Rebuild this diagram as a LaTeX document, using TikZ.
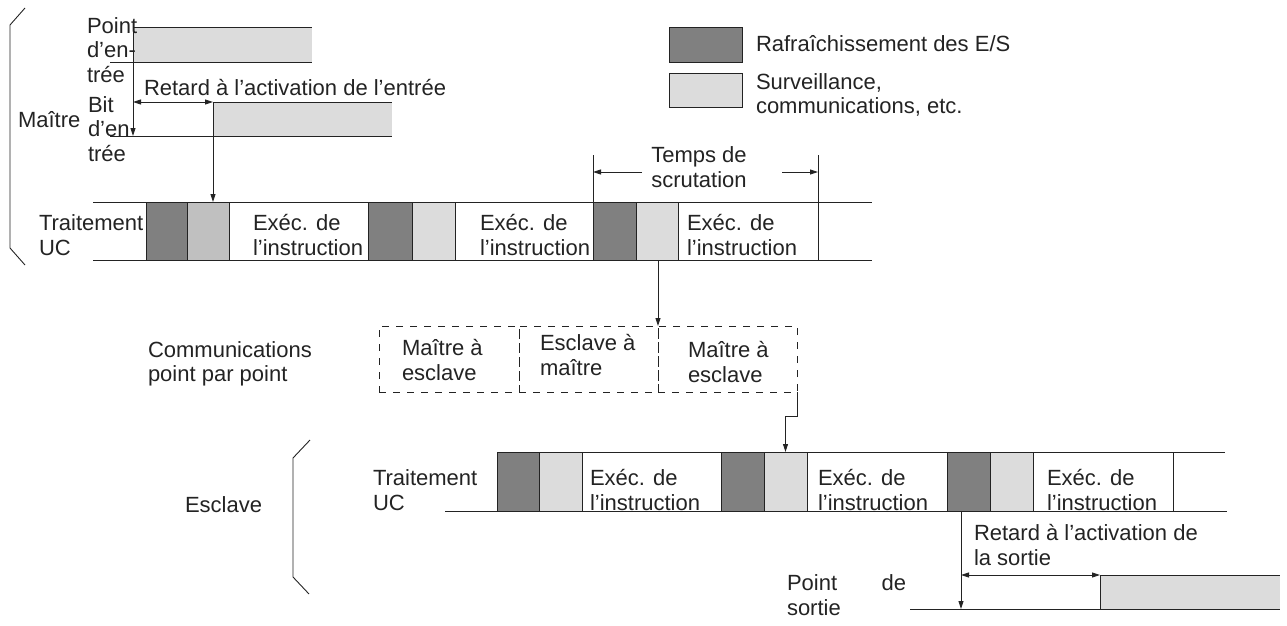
\documentclass[tikz,border=0pt]{standalone}
\usepackage{fontspec}
\setmainfont{Liberation Sans}
\usetikzlibrary{arrows.meta}
\definecolor{darkg}{RGB}{128,128,128}
\definecolor{lightg}{RGB}{220,220,220}
\definecolor{midg}{RGB}{192,192,192}
\definecolor{ink}{RGB}{35,35,35}
\begin{document}
\begin{tikzpicture}[x=1pt,y=-1pt,
  every node/.style={font=\fontsize{22}{24.5}\selectfont, inner sep=0pt, outer sep=0pt, text=ink},
  lbl/.style={anchor=west, align=left},
  line/.style={line width=0.9pt, draw=ink},
  arr/.style={line, -{Triangle[length=8pt,width=5pt]}},
  darr/.style={line, {Triangle[length=8pt,width=5pt]}-{Triangle[length=8pt,width=5pt]}},
  blk/.style={draw=ink, line width=0.9pt, minimum height=58pt},
  sblk/.style={draw=ink, line width=0.9pt, minimum height=59pt},
  comm/.style={draw=ink, line width=0.8pt, dash pattern=on 7pt off 7pt, minimum height=66pt}]
\useasboundingbox (0,0) rectangle (1287,626);

% ---------- legend ----------
\node[draw=ink, line width=0.9pt, fill=darkg, minimum width=73pt, minimum height=35pt] (legD) at (705.5,44.5) {};
\node[draw=ink, line width=0.9pt, fill=lightg, minimum width=73pt, minimum height=34pt] (legL) at (705.5,90) {};
\node[lbl] (legDt) at (756,44) {Rafraîchissement des E/S};
\node[lbl] (legLt) at (756,95) {Surveillance,\\communications, etc.};

% ---------- master bracket ----------
\draw[line] (25,8) -- (10,25) -- (10,248) -- (25,265);
\node[lbl] (maitre) at (18,120) {Maître};

% ---------- input signals ----------
\fill[lightg] (133,27) rectangle (312,62);
\draw[line] (133,27) -- (312,27);
\draw[line] (110,62) -- (312,62);
\fill[lightg] (213,102) rectangle (392,136);
\draw[line] (213,102) -- (392,102);
\draw[line] (110,136) -- (392,136);
\node[lbl] (ptin) at (87,50) {Point\\d’en-\\trée};
\node[lbl] (bitin) at (88,129) {Bit\\d’en\\trée};
\coordinate (inTop) at (133,21);
\coordinate (inLow) at (133,136);
\coordinate (inMid) at (133,102);
\coordinate (bitrise) at (213,102);
\draw[arr] (inTop) -- (inLow);
\draw[darr] (inMid) -- (bitrise);
\node[lbl] (retin) at (144,88) {Retard à l’activation de l’entrée};

% ---------- master row ----------
\draw[line] (93,202) -- (872,202);
\draw[line] (93,260) -- (872,260);
\node[blk, fill=darkg, minimum width=41pt] (m1d) at (166.5,231) {};
\node[blk, fill=midg, minimum width=42pt] (m1l) at (208,231) {};
\node[blk, fill=white, minimum width=139pt] (m1e) at (298.5,231) {};
\node[blk, fill=darkg, minimum width=44pt] (m2d) at (390,231) {};
\node[blk, fill=lightg, minimum width=43pt] (m2l) at (433.5,231) {};
\node[blk, fill=white, minimum width=138pt] (m2e) at (524,231) {};
\node[blk, fill=darkg, minimum width=43pt] (m3d) at (614.5,231) {};
\node[blk, fill=lightg, minimum width=42pt] (m3l) at (657,231) {};
\node[blk, fill=white, minimum width=140pt] (m3e) at (748,231) {};
\node[lbl] (mtr) at (39,235) {Traitement\\UC};
\node[lbl] (m1t) at (253,235) {Exéc. de\\l’instruction};
\node[lbl] (m2t) at (480,235) {Exéc. de\\l’instruction};
\node[lbl] (m3t) at (687,235) {Exéc. de\\l’instruction};
\draw[arr] (bitrise) -- (bitrise |- m1l.north);

% ---------- scan time ----------
\coordinate (scL) at (593,155);
\coordinate (scR) at (818,155);
\coordinate (scLa) at (642,172);
\coordinate (scRa) at (782,172);
\draw[line] (scL) -- (m3d.north west);
\draw[line] (scR) -- (m3e.north east);
\draw[arr] (scLa) -- (scLa -| scL);
\draw[arr] (scRa) -- (scRa -| scR);
\node[align=center] (scan) at (699,167) {Temps de\\scrutation};

% ---------- communications ----------
\node[lbl] (commt) at (148,364) {Communications\\point par point};
\node[comm, minimum width=140pt] (c1) at (449,359) {};
\node[comm, minimum width=139pt] (c2) at (588.5,359) {};
\node[comm, minimum width=139pt] (c3) at (727.5,359) {};
\node[lbl] (c1t) at (402,360) {Maître à\\esclave};
\node[lbl] (c2t) at (540,355) {Esclave à\\maître};
\node[lbl] (c3t) at (688,362) {Maître à\\esclave};
\draw[arr] (m3l.south -| c3.west) -- (c3.north west);
\coordinate (elb) at (797,416);

% ---------- slave bracket ----------
\draw[line] (310,440) -- (293,458) -- (293,577) -- (309,594);
\node[lbl] (escl) at (185,505) {Esclave};

% ---------- slave row ----------
\draw[line] (497,452) -- (1225,452);
\draw[line] (445,511) -- (1227,511);
\node[sblk, fill=darkg, minimum width=42pt] (s1d) at (518,481.5) {};
\node[sblk, fill=lightg, minimum width=43pt] (s1l) at (560.5,481.5) {};
\node[sblk, fill=white, minimum width=139pt] (s1e) at (651.5,481.5) {};
\node[sblk, fill=darkg, minimum width=43pt] (s2d) at (742.5,481.5) {};
\node[sblk, fill=lightg, minimum width=43pt] (s2l) at (785.5,481.5) {};
\node[sblk, fill=white, minimum width=140pt] (s2e) at (877,481.5) {};
\node[sblk, fill=darkg, minimum width=43pt] (s3d) at (968.5,481.5) {};
\node[sblk, fill=lightg, minimum width=43pt] (s3l) at (1011.5,481.5) {};
\node[sblk, fill=white, minimum width=140pt] (s3e) at (1103,481.5) {};
\node[lbl] (str) at (373,490) {Traitement\\UC};
\node[lbl] (s1t) at (590,490) {Exéc. de\\l’instruction};
\node[lbl] (s2t) at (818,490) {Exéc. de\\l’instruction};
\node[lbl] (s3t) at (1047,490) {Exéc. de\\l’instruction};
\draw[arr] (c3.south east) -- (elb) -| (s2l.north);

% ---------- output ----------
\fill[lightg] (1100,575) rectangle (1280,609);
\draw[line] (910,609) -- (1280,609);
\draw[line] (1100,609) -- (1100,575) -- (1280,575);
\coordinate (outV) at (961,609);
\coordinate (outHi) at (1100,575);
\draw[arr] (outV |- s3d.south) -- (outV);
\draw[darr] (outV |- outHi) -- (outHi);
\node[lbl] (retout) at (974,545) {Retard à l’activation de\\la sortie};
\node[lbl] (ptout) at (787,595) {\hbox to 119pt{Point\hfill de}\\sortie};
\end{tikzpicture}
\end{document}
